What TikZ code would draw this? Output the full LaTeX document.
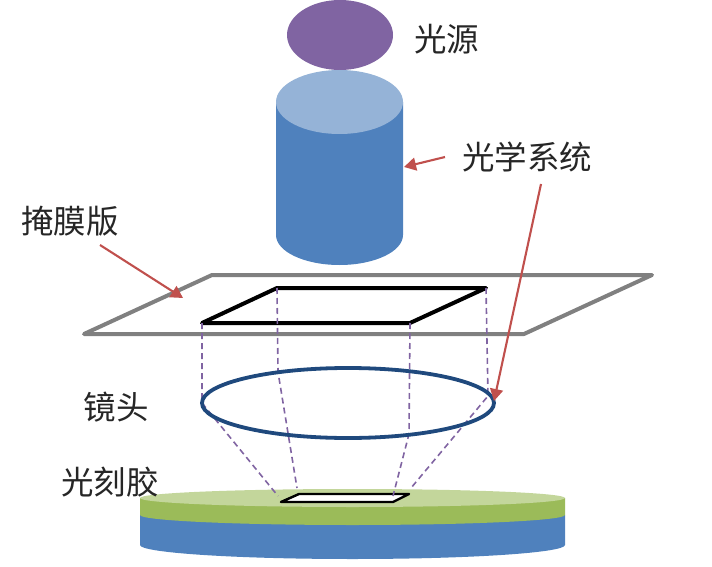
\documentclass[tikz,border=0pt]{standalone}
\usepackage{fontspec}
\usetikzlibrary{arrows.meta}
\newfontfamily\cjk{Noto Sans CJK SC}
\definecolor{lightpurple}{RGB}{128,100,162}
\definecolor{cylblue}{RGB}{79,129,189}
\definecolor{cyltop}{RGB}{149,179,215}
\definecolor{wafergreen}{RGB}{155,187,89}
\definecolor{wafertop}{RGB}{195,214,155}
\definecolor{lensblue}{RGB}{31,73,125}
\definecolor{pointerred}{RGB}{192,80,77}
\definecolor{maskgray}{RGB}{128,128,128}
\tikzset{
  labeltext/.style={font=\cjk\fontsize{32.5}{33}\selectfont,inner sep=0pt,text=black!85},
  pointer/.style={draw=pointerred,line width=2.1pt,-{Triangle[length=12pt,width=13pt]}},
  beam/.style={draw=lightpurple,line width=1.6pt,dash pattern=on 6pt off 4pt}
}
\begin{document}
\begin{tikzpicture}[x=1pt,y=-1pt]
  \useasboundingbox (0,0) rectangle (712,567);
  \def\maskpath{(84,334) -- (212,275) -- (652,275) -- (524,334) -- cycle}
  % wafer
  \fill [cylblue] (140,515) -- (140,545) arc [start angle=180,end angle=0,x radius=212.5,y radius=14] -- (565,515) -- cycle;
  \fill [wafergreen] (140,498) -- (140,515) arc [start angle=180,end angle=0,x radius=212.5,y radius=10] -- (565,498) -- cycle;
  \fill [wafertop] (352.5,498) circle [x radius=212.5,y radius=9];
  % light source and optical system
  \fill [lightpurple] (340,35) circle [x radius=53,y radius=35];
  \fill [cylblue] (276,102) -- (276,235) arc [start angle=180,end angle=0,x radius=63.5,y radius=30] -- (403,102) -- cycle;
  \fill [cyltop] (339.5,102) circle [x radius=63.5,y radius=32];
  % mask
  \draw [maskgray,line width=4pt,line join=round] \maskpath;
  \draw [black,line width=4pt,line join=round]
    (202,323) coordinate (ma) -- (277,288) coordinate (mb) -- (486,288) coordinate (mc) -- (410,323) coordinate (md) -- cycle;
  % image on the wafer
  \draw [black,fill=white,line width=2.4pt,line join=round]
    (281,502) coordinate (wa) -- (299,494) coordinate (wb) -- (409,494) coordinate (wc) -- (393,502) coordinate (wd) -- cycle;
  % rays
  \coordinate (la) at (202,403);
  \coordinate (lb) at (278,372);
  \coordinate (lc) at (488,396);
  \coordinate (ld) at (409,434);
  \draw [beam] (ma) -- (la) -- ([shift={(-3,-6)}]wa);
  \draw [beam] (mb) -- (lb) -- ([shift={(-2,-6)}]wb);
  \draw [beam] (mc) -- (lc) -- ([shift={(2,-6)}]wc);
  \draw [beam] (md) -- (ld) -- ([shift={(0,-6)}]wd);
  % lens
  \draw [lensblue,line width=3.8pt] (348,403) circle [x radius=146,y radius=35];
  % labels
  \node [labeltext] (source) at (446.5,39) {光源};
  \node [labeltext] (optics) at (527,157) {光学系统};
  \node [labeltext] (mask) at (70,221) {掩膜版};
  \node [labeltext] (lens) at (116,407) {镜头};
  \node [labeltext] (resist) at (110,482) {光刻胶};
  % arrows
  \coordinate (maskhit) at (183,298);
  \coordinate (cylhit) at (404,167);
  \coordinate (lenshit) at (494,401);
  \draw [pointer] (100,245) coordinate (maskfoot) -- (maskhit);
  \draw [pointer] (445,157) coordinate (cylfoot) -- (cylhit);
  \draw [pointer] (541,184) coordinate (lensfoot) -- (lenshit);
\end{tikzpicture}
\end{document}
